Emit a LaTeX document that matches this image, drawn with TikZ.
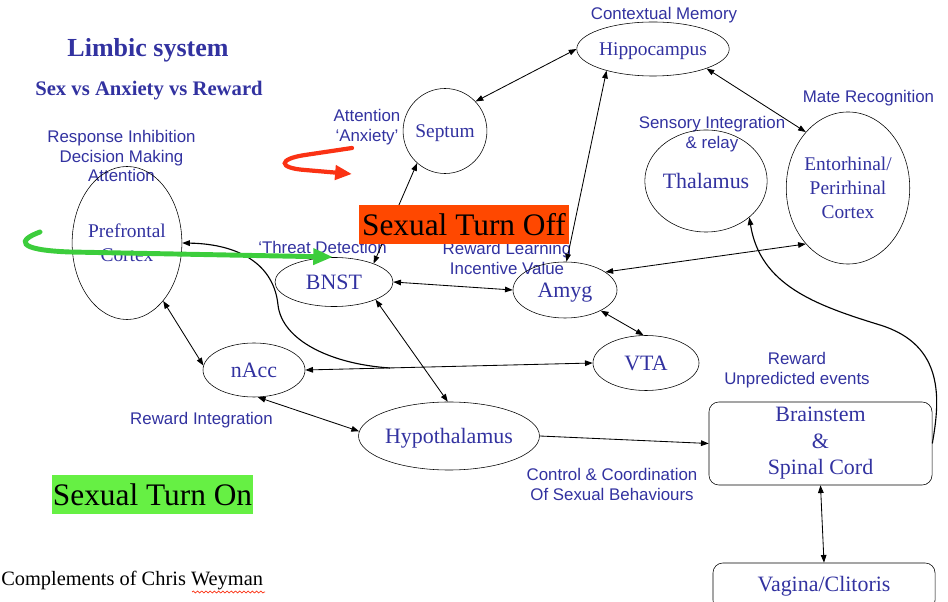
\documentclass[tikz,border=0pt]{standalone}
\usepackage{fontspec}
\setmainfont{Liberation Serif}
\setsansfont{Liberation Sans}
\usetikzlibrary{arrows.meta, shapes.geometric, decorations.pathmorphing}
\definecolor{lblue}{RGB}{50,50,160}
\definecolor{offred}{RGB}{255,72,0}
\definecolor{ongreen}{RGB}{102,240,68}
\definecolor{markgreen}{RGB}{60,205,60}
\definecolor{markred}{RGB}{250,50,20}

\begin{document}
\begin{tikzpicture}[x=0.025cm, y=-0.025cm, >={Triangle[length=5.5pt,width=4pt]},
  region/.style 2 args={draw, ellipse, inner sep=0pt, minimum width=#1, minimum height=#2,
    text=lblue, align=center, font=\fontsize{15.6}{18}\selectfont},
  smalltext/.style={font=\fontsize{13.8}{17}\selectfont},
  flat/.style={text depth=0pt},
  cord/.style={draw, rounded corners=7pt, inner sep=0pt, text=lblue, align=center,
    font=\fontsize{15.6}{18.8}\selectfont},
  note/.style={text=lblue, align=center, font=\sffamily\fontsize{12}{14.2}\selectfont},
  link/.style={<->, line width=0.6pt},
  verdict/.style={inner sep=0pt, minimum height=0.975cm, font=\fontsize{22.3}{26}\selectfont}]
  \useasboundingbox (0,0) rectangle (948,602);

  % titles
  \node[text=lblue, font=\bfseries\fontsize{18.5}{22}\selectfont] (title) at (148,50) {Limbic system};
  \node[text=lblue, font=\bfseries\fontsize{14.7}{17}\selectfont] (subtitle) at (149,91) {Sex vs Anxiety vs Reward};

  % function labels
  \node[note] (pfcnote) at (121.5,156) {Response Inhibition\\Decision Making\\Attention};
  \node[note] (sepnote) at (367,127.5) {Attention\\‘Anxiety’};
  \node[note] (hipnote) at (664,15) {Contextual Memory};
  \node[note] (entonote) at (868.5,98) {Mate Recognition};
  \node[note] (thalnote) at (712,134) {Sensory Integration\\\& relay};
  \node[note] (bnstnote) at (322.5,247) {‘Threat Detection};
  \node[note] (amygnote) at (507,258) {Reward Learning\\Incentive Value};
  \node[note] (naccnote) at (201.5,420) {Reward Integration};
  \node[note] (vtanote) at (797,370) {Reward\\Unpredicted events};
  \node[note] (hypnote) at (612,484) {Control \& Coordination\\Of Sexual Behaviours};

  % brain regions
  \node[region={2.375cm}{3.825cm}, smalltext] (pfc) at (127,243) {Prefrontal\\Cortex};
  \node[region={1.975cm}{2.125cm}, smalltext, flat] (sep) at (445,131) {Septum};
  \node[region={3.65cm}{1.35cm}, smalltext, flat] (hip) at (653,49) {Hippocampus};
  \node[region={3.05cm}{2.55cm}] (thal) at (706,181) {Thalamus};
  \node[region={2.9cm}{3.8cm}, smalltext] (ento) at (848,188) {Entorhinal/\\Perirhinal\\Cortex};
  \node[region={2.95cm}{1.225cm}] (bnst) at (334,282) {BNST};
  \node[region={2.6cm}{1.4cm}, flat] (amyg) at (565,290) {Amyg};
  \node[region={2.65cm}{1.375cm}] (vta) at (646,363) {VTA};
  \node[region={2.55cm}{1.35cm}] (nacc) at (254,370) {nAcc};
  \node[region={4.025cm}{1.7cm}, flat] (hyp) at (449,436) {Hypothalamus};
  \node[cord, minimum width=5.575cm, minimum height=2.075cm] (brain) at (820.5,443.5) {Brainstem\\\&\\Spinal Cord};
  \node[cord, minimum width=5.55cm, minimum height=1.175cm] (vag) at (824,586.5) {Vagina/Clitoris};

  % pathways
  \draw[link] (sep.44) -- (hip.west);
  \draw[link] (bnst.25) -- (sep.229);
  \draw[link] (amyg.87) -- (hip.205);
  \draw[link] (hip.340) -- (ento.127);
  \draw[link] (amyg.24) -- (ento.233);
  \draw[link] (bnst.east) -- (amyg.west);
  \draw[link] (amyg.330) -- (vta.95);
  \draw[link] (nacc.east) -- (vta.west);
  \draw[link] (pfc.302) -- (nacc.175);
  \draw[link] (bnst.337) -- (hyp.92);
  \draw[link] (nacc.278) -- (hyp.177);
  \draw[->, line width=0.6pt] (hyp.east) -- (brain.west);
  \draw[link] (brain.south) -- (vag.north);
  \coordinate (merge) at (390,368);
  \draw[->, line width=0.8pt] (merge) .. controls (330,364) and (282,340) .. (278,305)
    .. controls (274,265) and (240,244) .. (pfc.east);
  \draw[->, line width=0.8pt] (brain.east) .. controls (940,400) and (945,345) .. (880,325)
    .. controls (815,305) and (760,285) .. (thal.320);

  % turn off / turn on
  \node[verdict, fill=offred, minimum width=5.25cm] (off) at (464,224.5) {Sexual Turn Off};
  \node[verdict, fill=ongreen, minimum width=5.025cm] (on) at (152.5,494.5) {Sexual Turn On};

  % hand-drawn marks
  \coordinate (ontail) at (40,232);
  \coordinate (ontip) at (333,257);
  \draw[markgreen, line width=3.5pt, line cap=round, -{Triangle[length=14pt,width=11pt]}]
    (ontail) .. controls (18,240) and (15,250) .. (70,252) -- (ontip);
  \coordinate (offtail) at (352,148);
  \coordinate (offtip) at (352,174);
  \draw[markred, line width=3pt, line cap=round, -{Triangle[length=12pt,width=10pt]}]
    (offtail) -- (305,155) .. controls (278,159) and (278,168) .. (305,170) -- (offtip);

  % credit
  \node[anchor=base west, inner sep=0pt, font=\fontsize{14.5}{17}\selectfont] (credit) at (1,585) {Complements of Chris Weyman};
  \draw[markred, line width=0.5pt, decorate, decoration={snake, amplitude=0.7pt, segment length=3pt}]
    (192,592) -- (265,592);
\end{tikzpicture}
\end{document}
